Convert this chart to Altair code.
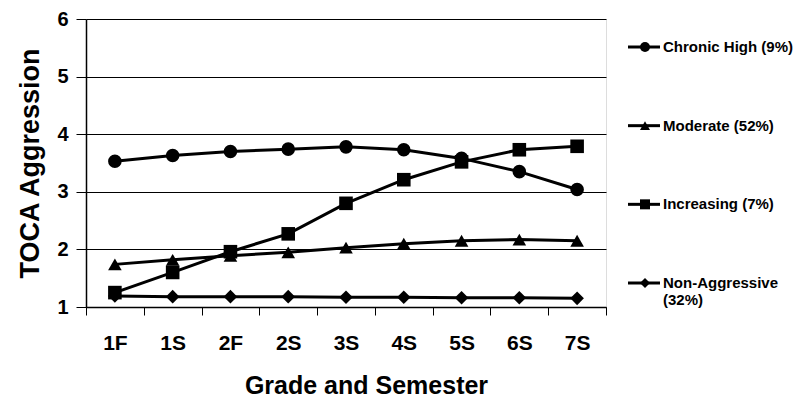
import altair as alt
import pandas as pd

grades = ["1F", "1S", "2F", "2S", "3S", "4S", "5S", "6S", "7S"]
series_names = ["Chronic High (9%)", "Moderate (52%)", "Increasing (7%)", "Non-Aggressive (32%)"]
legend_line1 = ["Chronic High (9%)", "Moderate (52%)", "Increasing (7%)", "Non-Aggressive"]
legend_line2 = ["", "", "", "(32%)"]
shapes = ["circle", "triangle-up", "square", "diamond"]

chronic = [3.53, 3.63, 3.70, 3.74, 3.78, 3.73, 3.58, 3.35, 3.04]
moderate = [1.74, 1.82, 1.89, 1.95, 2.03, 2.10, 2.15, 2.17, 2.15]
increasing = [1.25, 1.60, 1.96, 2.27, 2.80, 3.21, 3.52, 3.73, 3.79]
non_aggressive = [1.19, 1.18, 1.18, 1.18, 1.17, 1.17, 1.16, 1.16, 1.15]

values = [chronic, moderate, increasing, non_aggressive]
rows = []
for name, vals in zip(series_names, values):
    for g, v in zip(grades, vals):
        rows.append({"grade": g, "series": name, "value": v})
df = pd.DataFrame(rows)

leg = pd.DataFrame({"series": series_names, "line1": legend_line1, "line2": legend_line2})

FONT = "Liberation Sans"

x_enc = alt.X("grade:N", sort=grades,
              scale=alt.Scale(type="band", paddingInner=0, paddingOuter=0),
              axis=alt.Axis(title="Grade and Semester", labelAngle=0, tickBand="extent",
                            labelFontSize=21, labelFontWeight="bold", labelPadding=17,
                            tickSize=8, tickColor="black", domainColor="black", domainWidth=1.5,
                            titleFontSize=25, titleFontWeight="bold", titleX=280, titleY=78,
                            titleBaseline="middle", titleAnchor="start", titleAlign="center",
                            grid=False, labelColor="black", titleColor="black"))
y_enc = alt.Y("value:Q", scale=alt.Scale(domain=[1, 6], nice=False, zero=False),
              axis=alt.Axis(title="TOCA Aggression", values=[1, 2, 3, 4, 5, 6],
                            labelFontSize=20, labelFontWeight="bold", labelPadding=8,
                            tickSize=10, tickColor="black", domainColor="black", domainWidth=1.5,
                            gridColor="black", gridWidth=1, gridOpacity=1,
                            titleFontSize=27, titleFontWeight="bold", titlePadding=12,
                            labelColor="black", titleColor="black"))

shape_scale = alt.Scale(domain=series_names, range=shapes)

lines = alt.Chart(df).mark_line(color="black", strokeWidth=3).encode(
    x=x_enc, y=y_enc, detail="series:N")
points = alt.Chart(df).mark_point(filled=True, color="black", opacity=1, size=185).encode(
    x=x_enc, y=y_enc, shape=alt.Shape("series:N", scale=shape_scale, legend=None))

ly = alt.Y("series:N", sort=series_names, axis=None,
           scale=alt.Scale(type="point", domain=series_names, range=[28, 264], padding=0))
leg_rule = alt.Chart(leg).mark_rule(color="black", strokeWidth=3).encode(
    x=alt.value(542), x2=alt.value(574), y=ly)
leg_pts = alt.Chart(leg).mark_point(filled=True, color="black", opacity=1, size=100).encode(
    x=alt.value(559), y=ly, shape=alt.Shape("series:N", scale=shape_scale, legend=None))
leg_t1 = alt.Chart(leg).mark_text(align="left", baseline="middle", font=FONT, fontSize=15,
                                  fontWeight="bold", color="black").encode(
    x=alt.value(577), y=ly, text="line1:N")
leg_t2 = alt.Chart(leg).mark_text(align="left", baseline="middle", font=FONT, fontSize=15,
                                  fontWeight="bold", color="black", dy=17).encode(
    x=alt.value(577), y=ly, text="line2:N")

main = alt.layer(lines, points)
legend = alt.layer(leg_rule, leg_pts, leg_t1, leg_t2)

chart = alt.layer(main, legend).resolve_scale(y="independent").properties(
    width=520, height=288,
    autosize=alt.AutoSizeParams(type="none"),
    padding={"left": 78, "top": 11, "right": 193, "bottom": 93},
).configure_view(stroke="black", strokeWidth=1).configure(
    font=FONT, background="white"
).configure_axis(labelFont=FONT, titleFont=FONT)

chart.save("out.html", embed_options={"renderer": "svg", "actions": False})
